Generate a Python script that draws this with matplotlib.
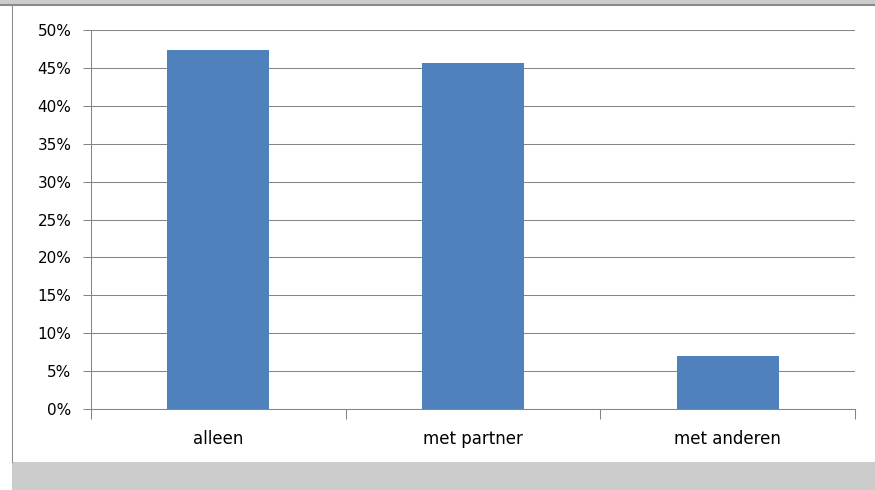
import matplotlib.pyplot as plt
from matplotlib.patches import Rectangle
from matplotlib.lines import Line2D
from matplotlib.ticker import FuncFormatter, FixedLocator

categories = ["alleen", "met partner", "met anderen"]
shares = [0.474, 0.456, 0.070]
y_ticks = [0.0, 0.05, 0.10, 0.15, 0.20, 0.25, 0.30, 0.35, 0.40, 0.45, 0.50]

W, H = 875, 490
fig = plt.figure(figsize=(W / 100, H / 100), dpi=100, facecolor="white")

# screenshot frame: grey band on top and bottom, thin line on the left
fig.patches.append(Rectangle((0, 1 - 5 / H), 1, 5 / H, transform=fig.transFigure,
                             facecolor="#cccccc", edgecolor="none", zorder=0))
fig.patches.append(Rectangle((12 / W, 0), 1, 28 / H, transform=fig.transFigure,
                             facecolor="#cccccc", edgecolor="none", zorder=0))
fig.lines.append(Line2D([0, 1], [1 - 5.5 / H] * 2, transform=fig.transFigure,
                        color="#8a8a8a", lw=1.5))
fig.lines.append(Line2D([12 / W] * 2, [28 / H, 1 - 5 / H], transform=fig.transFigure,
                        color="#8a8a8a", lw=0.75))

ax = fig.add_axes([91 / W, 1 - 409 / H, (855 - 91) / W, (409 - 30) / H])
ax.set_facecolor("none")

x = range(len(categories))
ax.bar(x, shares, width=0.4, color="#4f81bd", zorder=2)

ax.set_xlim(-0.5, len(categories) - 0.5)
ax.set_ylim(0, 0.5)
ax.set_yticks(y_ticks)
ax.yaxis.set_major_formatter(FuncFormatter(lambda v, _: f"{v * 100:.0f}%"))
ax.set_xticks(list(x))
ax.set_xticklabels(categories, fontsize=12)
ax.xaxis.set_minor_locator(FixedLocator([i - 0.5 for i in range(len(categories) + 1)]))

ax.grid(axis="y", color="#868686", lw=0.75, zorder=1)
ax.tick_params(axis="y", length=6, width=0.75, color="#868686", labelsize=11, pad=8)
ax.tick_params(axis="x", which="major", length=0, pad=15)
ax.tick_params(axis="x", which="minor", length=7, width=0.75, color="#868686")

for side in ["top", "right"]:
    ax.spines[side].set_visible(False)
for side in ["left", "bottom"]:
    ax.spines[side].set_color("#868686")
    ax.spines[side].set_linewidth(0.75)

fig.savefig("out.png", dpi=100)
